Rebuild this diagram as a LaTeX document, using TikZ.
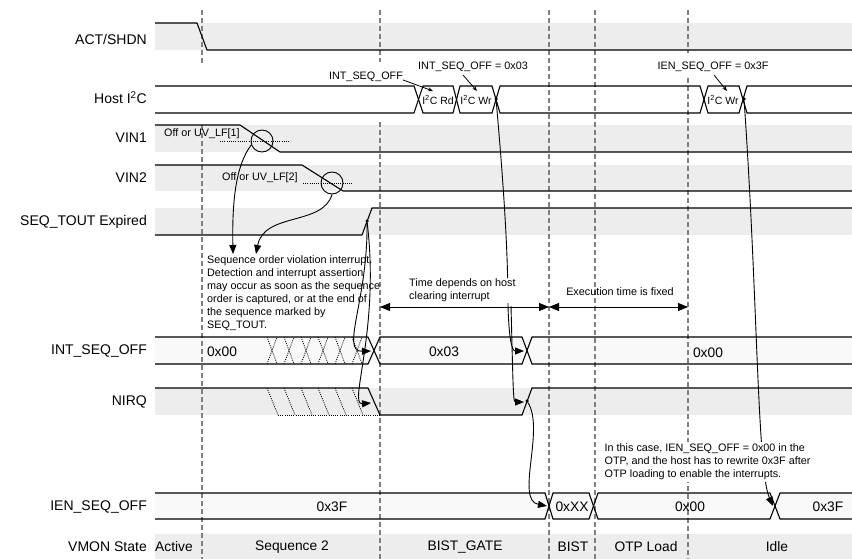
\documentclass[tikz,border=0pt]{standalone}
\usepackage{fontspec}
\setmainfont{Liberation Sans}
\usetikzlibrary{arrows.meta}
\definecolor{bandgray}{RGB}{237,237,237}
\definecolor{busfill}{RGB}{249,249,249}
\definecolor{dashgray}{RGB}{128,128,128}
\tikzset{
 sig/.style={line width=1.1pt, line join=miter},
 band/.style={fill=bandgray, draw=none},
 busbg/.style={fill=busfill, draw=none},
 vdash/.style={dashgray, line width=1.3pt, dash pattern=on 5pt off 3pt},
 dotl/.style={line width=0.8pt, dash pattern=on 1pt off 1.2pt},
 lbl/.style={font=\fontsize{14}{16}\selectfont, anchor=east, inner sep=0pt},
 val/.style={font=\fontsize{13.8}{16}\selectfont, inner sep=0pt},
 note/.style={font=\fontsize{10.8}{13}\selectfont, inner sep=0pt, align=left},
 busval/.style={font=\fontsize{10.5}{12}\selectfont, inner sep=0pt},
 curv/.style={line width=0.9pt, -{Triangle[length=9pt,width=7pt]}},
 plainc/.style={line width=0.9pt},
 dbl/.style={line width=0.9pt, {Triangle[length=10pt,width=8pt]}-{Triangle[length=10pt,width=8pt]}},
 sarr/.style={line width=0.8pt, -{Stealth[length=5pt,width=4pt]}},
 dotn/.style={circle, fill=black, inner sep=0pt, minimum size=3.5pt},
 ring/.style={draw, circle, line width=0.9pt, minimum size=22pt, inner sep=0pt},
}
\begin{document}
\begin{tikzpicture}[x=1pt,y=-1pt]
\useasboundingbox (0,0) rectangle (852,559);
\fill[white] (0,0) rectangle (852,559);

% background bands
\fill[band] (155,23) rectangle (852,50);
\fill[band] (155,125) rectangle (852,152);
\fill[band] (155,165) rectangle (852,191);
\fill[band] (155,208) rectangle (852,235);
\fill[band] (155,388) rectangle (852,415);
\fill[band] (155,534) rectangle (852,559);
\fill[busbg] (155,337) rectangle (852,364);
\fill[busbg] (155,493) rectangle (852,519);

% vertical dashed phase lines
\draw[vdash] (202,10) -- (202,63);
\draw[vdash] (202,125) -- (202,559);
\draw[vdash] (380,10) -- (380,62);
\draw[vdash] (380,122) -- (380,559);
\draw[vdash] (549,10) -- (549,559);
\draw[vdash] (595,10) -- (595,559);
\draw[vdash] (688,10) -- (688,53);
\draw[vdash] (688,78) -- (688,559);

% signal names
\node[lbl] (nAct) at (147,39) {ACT/SHDN};
\node[lbl] (nHost) at (147,98) {Host I\textsuperscript{2}C};
\node[lbl] (nVin1) at (147,138) {VIN1};
\node[lbl] (nVin2) at (147,178) {VIN2};
\node[lbl] (nSeq) at (147,222) {SEQ\_TOUT Expired};
\node[lbl] (nInt) at (147,351) {INT\_SEQ\_OFF};
\node[lbl] (nNirq) at (147,402) {NIRQ};
\node[lbl] (nIen) at (147,507) {IEN\_SEQ\_OFF};
\node[lbl] (nVmon) at (147,547) {VMON State};

% ACT/SHDN
\draw[sig] (155,23) -- (197,23) -- (207,50) -- (852,50);

% Host I2C bus
\draw[sig] (155,86) -- (414,86) -- (423,113) -- (453,113) -- (460,86) -- (492,86) -- (500,113) -- (700,113) -- (708,86) -- (739,86) -- (747,113) -- (852,113);
\draw[sig] (155,113) -- (414,113) -- (423,86) -- (453,86) -- (460,113) -- (492,113) -- (500,86) -- (700,86) -- (708,113) -- (739,113) -- (747,86) -- (852,86);
\node[busval] (hRd) at (438,100) {I\textsuperscript{2}C Rd};
\node[busval] (hWr1) at (476,100) {I\textsuperscript{2}C Wr};
\node[busval] (hWr2) at (723,100) {I\textsuperscript{2}C Wr};

% VIN1
\draw[sig] (155,125) -- (240,125) -- (280,152) -- (852,152);
\draw[dotl] (220,141) -- (289,141);
\node[ring] (c1) at (262,141) {};
\node[note, anchor=west] (tV1) at (164,134) {Off or UV\_LF[1]};

% VIN2
\draw[sig] (155,165) -- (302,165) -- (343,191) -- (852,191);
\draw[dotl] (303,183) -- (353,183);
\node[ring] (c2) at (332,183) {};
\node[note, anchor=west] (tV2) at (222,178) {Off or UV\_LF[2]};

% SEQ_TOUT
\draw[sig] (155,235) -- (362,235) -- (372,208) -- (852,208);

% INT_SEQ_OFF bus
\draw[sig] (155,337) -- (368,337) -- (380,364) -- (522,364) -- (532,337) -- (852,337);
\draw[sig] (155,364) -- (368,364) -- (380,337) -- (522,337) -- (532,364) -- (852,364);
\foreach \xx in {267,284,301,318,335,352} {
  \draw[dotl] (\xx,337) -- (\xx+10,364);
  \draw[dotl] (\xx,364) -- (\xx+10,337);
}
\node[val] (i0) at (222,352) {0x00};
\node[val] (i1) at (444,352) {0x03};
\node[val] (i2) at (708,353) {0x00};

% NIRQ
\draw[sig] (155,388) -- (368,388) -- (380,415) -- (522,415) -- (532,388) -- (852,388);
\foreach \xx in {267,284,301,318,335,352} {
  \draw[dotl] (\xx,388) -- (\xx+11,415);
}
\draw[dotl] (278,415) -- (380,415);

% IEN_SEQ_OFF bus
\draw[sig] (155,493) -- (545,493) -- (553,519) -- (589,519) -- (598,493) -- (770,493) -- (780,519) -- (852,519);
\draw[sig] (155,519) -- (545,519) -- (553,493) -- (589,493) -- (598,519) -- (770,519) -- (780,493) -- (852,493);
\node[val] (e0) at (332,507) {0x3F};
\node[val] (e1) at (572,507) {0xXX};
\node[val] (e2) at (690,507) {0x00};
\node[val] (e3) at (828,507) {0x3F};

% VMON states
\node[val] (s0) at (174,547) {Active};
\node[val] (s1) at (292,547) {Sequence 2};
\node[val] (s2) at (465,547) {BIST\_GATE};
\node[val] (s3) at (573,547) {BIST};
\node[val] (s4) at (646,547) {OTP Load};
\node[val] (s5) at (777,547) {Idle};

% register write labels
\node[note] (lA) at (366,77) {INT\_SEQ\_OFF};
\node[note] (lB) at (473,67) {INT\_SEQ\_OFF = 0x03};
\node[note] (lC) at (713,67) {IEN\_SEQ\_OFF = 0x3F};
\coordinate (pA) at (433,91);
\coordinate (pB) at (477,91);
\coordinate (pC) at (727,91);
\draw[sarr] ([yshift=-3pt]lA.east) -- (pA);
\draw[sarr] ([xshift=-10pt,yshift=-3pt]lB.south) -- (pB);
\draw[sarr] ([xshift=1pt,yshift=-3pt]lC.south) -- (pC);

% dots
\node[dotn] (dSeq) at (367,221) {};
\node[dotn] (dW1) at (496,99) {};
\node[dotn] (dNirq) at (527,401) {};
\node[dotn] (dW2) at (744,99) {};

% target points
\coordinate (tq1) at (233,254);
\coordinate (tq2) at (256,254);
\coordinate (tIntA) at (371,351);
\coordinate (tNirqA) at (371,403);
\coordinate (tSplit) at (508,306);
\coordinate (tSplitB) at (511,306);
\coordinate (tIntB) at (524,351);
\coordinate (tNirqB) at (524,402);
\coordinate (tIenA) at (547,506);
\coordinate (tIenB) at (773,506);

% causal connectors
\draw[curv] (c1.200) .. controls (236,165) and (232,200) .. (tq1);
\draw[curv] (c2.south) .. controls (323,226) and (264,212) .. (tq2);
\draw[curv] (dSeq) .. controls (368,300) and (340,352) .. (tIntA);
\draw[curv] (dSeq) .. controls (380,330) and (348,405) .. (tNirqA);
\draw[plainc] (dW1) .. controls (505,200) and (508,260) .. (tSplit);
\draw[curv] (tSplit) .. controls (509,340) and (512,351) .. (tIntB);
\draw[curv] (tSplitB) .. controls (513,380) and (513,402) .. (tNirqB);
\draw[curv] (dNirq) .. controls (545,430) and (515,500) .. (tIenA);
\draw[curv] (dW2) .. controls (758,300) and (757,470) .. (tIenB);

% timing arrows
\coordinate (dA) at (380,307);
\coordinate (dB) at (549,307);
\coordinate (dC) at (688,307);
\draw[dbl] (dA) -- (dB);
\draw[dbl] (dB) -- (dC);

% notes
\node[note, anchor=west] (nSeqV) at (207,293) {Sequence order violation interrupt.\\Detection and interrupt assertion\\may occur as soon as the sequence\\order is captured, or at the end of\\the sequence marked by\\SEQ\_TOUT.};
\node[note, anchor=west, fill=white, inner sep=1pt] (nTime) at (408,290.5) {Time depends on host\\clearing interrupt};
\node[note] (nExec) at (620,292) {Execution time is fixed};
\node[note, anchor=west, fill=white, inner sep=1.5pt] (nCase) at (603,462) {In this case, IEN\_SEQ\_OFF = 0x00 in the\\OTP, and the host has to rewrite 0x3F after\\OTP loading to enable the interrupts.};
\end{tikzpicture}
\end{document}
